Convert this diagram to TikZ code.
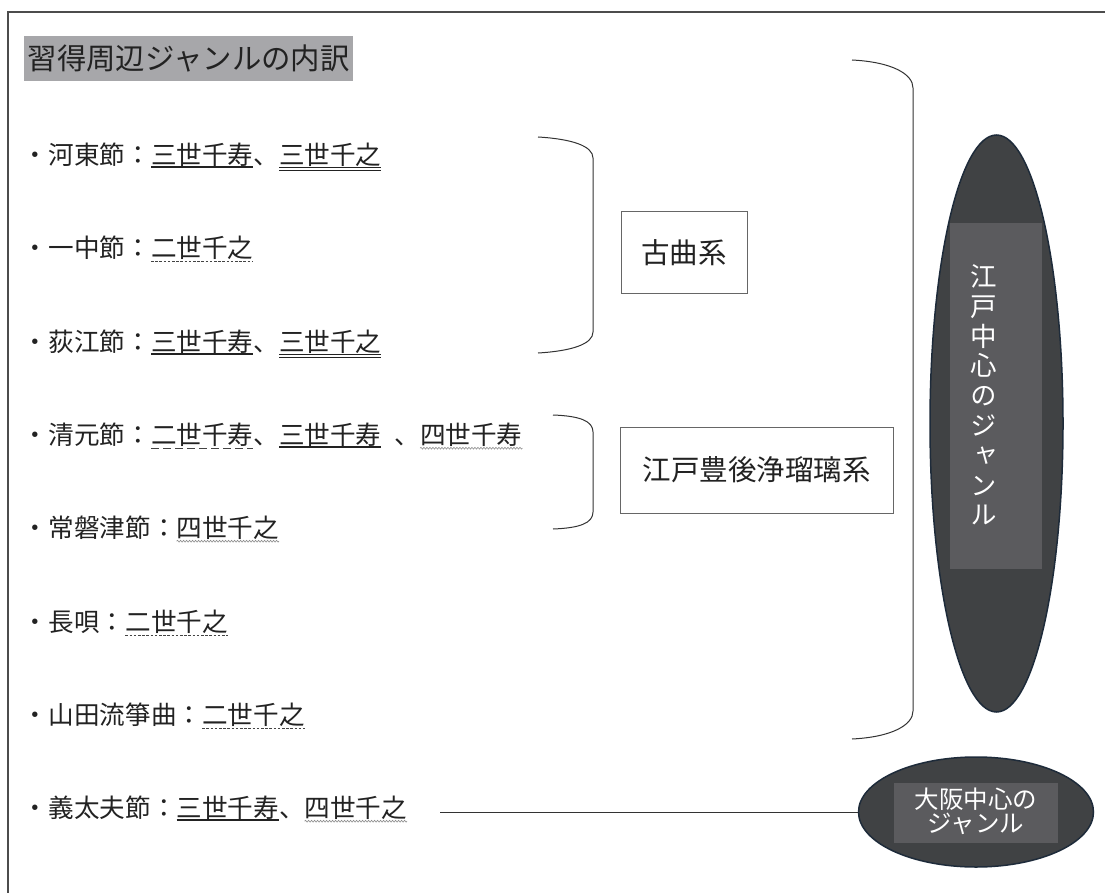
\documentclass[tikz,border=0pt]{standalone}
\usepackage{fontspec}
\newfontfamily\jp{Noto Sans CJK JP}
\newfontfamily\jpv[RawFeature=+vert]{Noto Sans CJK JP}
\usetikzlibrary{shapes.geometric,decorations.pathmorphing}
\definecolor{txt}{HTML}{222222}
\definecolor{titlebg}{HTML}{A7A7AA}
\definecolor{ellfill}{HTML}{404244}
\definecolor{ellline}{HTML}{1E2B3A}
\definecolor{rectfill}{HTML}{5B5B5E}
\definecolor{brk}{HTML}{333333}
\begin{document}
\begin{tikzpicture}[x=1pt,y=-1pt,
  seg/.style={inner sep=0pt, outer sep=0pt, anchor=base west, text=txt, font=\jp\fontsize{25.6}{30}\selectfont},
  ulsolid/.style={line width=1.8pt, draw=txt},
  uldouble/.style={line width=1pt, draw=txt},
  uldot/.style={line width=1.1pt, draw=txt!85, dash pattern=on 2.6pt off 1.6pt},
  uldash/.style={line width=1.1pt, draw=txt!85, dash pattern=on 8pt off 4pt},
  ulwave/.style={line width=0.6pt, draw=black!45, decorate, decoration={snake, amplitude=0.9pt, segment length=3pt}},
  bracket/.style={draw=brk, line width=1pt},
  catbox/.style={draw=black!60, line width=1pt, inner sep=0pt, text=txt, font=\jp\fontsize{28.5}{30}\selectfont},
  wtext/.style={text=white, inner sep=0pt, align=center}
]
\useasboundingbox (0,0) rectangle (1105,893);
% frame
\draw[draw=black!70, line width=1.4pt] (8,893) -- (8,12) -- (1105,12);
% title
\node (title) [fill=titlebg, minimum width=329pt, minimum height=45pt, inner sep=0pt, anchor=north west, text=txt, font=\jp\fontsize{29.4}{32}\selectfont] at (24,36) {習得周辺ジャンルの内訳};

% line 1
\node[seg] (a1) at (23,164.7) {・河東節：};
\node[seg] (a2) at (a1.base east) {三世千寿};
\node[seg] (a3) at (a2.base east) {、};
\node[seg] (a4) at (a3.base east) {三世千之};
\draw[ulsolid] ([yshift=-2.5pt]a2.base west) -- ([yshift=-2.5pt]a2.base east);
\draw[uldouble] ([yshift=-2.8pt]a4.base west) -- ([yshift=-2.8pt]a4.base east);
\draw[uldouble] ([yshift=-5.4pt]a4.base west) -- ([yshift=-5.4pt]a4.base east);

% line 2
\node[seg] (b1) at (23,257.7) {・一中節：};
\node[seg] (b2) at (b1.base east) {二世千之};
\draw[uldot] ([yshift=-4pt]b2.base west) -- ([yshift=-4pt]b2.base east);

% line 3
\node[seg] (c1) at (23,351.7) {・荻江節：};
\node[seg] (c2) at (c1.base east) {三世千寿};
\node[seg] (c3) at (c2.base east) {、};
\node[seg] (c4) at (c3.base east) {三世千之};
\draw[ulsolid] ([yshift=-2.5pt]c2.base west) -- ([yshift=-2.5pt]c2.base east);
\draw[uldouble] ([yshift=-2.8pt]c4.base west) -- ([yshift=-2.8pt]c4.base east);
\draw[uldouble] ([yshift=-5.4pt]c4.base west) -- ([yshift=-5.4pt]c4.base east);

% line 4
\node[seg] (d1) at (23,444.7) {・清元節：};
\node[seg] (d2) at (d1.base east) {二世千寿};
\node[seg] (d3) at (d2.base east) {、};
\node[seg] (d4) at (d3.base east) {三世千寿};
\node[seg] (d5) at (d4.base east) {\hspace{13pt}、};
\node[seg] (d6) at (d5.base east) {四世千寿};
\draw[uldash] ([yshift=-4pt]d2.base west) -- ([yshift=-4pt]d2.base east);
\draw[ulsolid] ([yshift=-2.5pt]d4.base west) -- ([yshift=-2.5pt]d4.base east);
\draw[ulwave] ([yshift=-3.5pt]d6.base west) -- ([yshift=-3.5pt]d6.base east);

% line 5
\node[seg] (e1) at (23,537.7) {・常磐津節：};
\node[seg] (e2) at (e1.base east) {四世千之};
\draw[ulwave] ([yshift=-3.5pt]e2.base west) -- ([yshift=-3.5pt]e2.base east);

% line 6
\node[seg] (f1) at (23,631.7) {・長唄：};
\node[seg] (f2) at (f1.base east) {二世千之};
\draw[uldot] ([yshift=-4pt]f2.base west) -- ([yshift=-4pt]f2.base east);

% line 7
\node[seg] (g1) at (23,724.7) {・山田流箏曲：};
\node[seg] (g2) at (g1.base east) {二世千之};
\draw[uldot] ([yshift=-4pt]g2.base west) -- ([yshift=-4pt]g2.base east);

% line 8
\node[seg] (h1) at (23,817.7) {・義太夫節：};
\node[seg] (h2) at (h1.base east) {三世千寿};
\node[seg] (h3) at (h2.base east) {、};
\node[seg] (h4) at (h3.base east) {四世千之};
\draw[ulsolid] ([yshift=-2.5pt]h2.base west) -- ([yshift=-2.5pt]h2.base east);
\draw[ulwave] ([yshift=-3.5pt]h4.base west) -- ([yshift=-3.5pt]h4.base east);

% brackets
\draw[bracket] (538,137) .. controls (572,139) and (593,146) .. (593,158) -- (593,332) .. controls (593,344) and (572,351) .. (538,353);
\draw[bracket] (553,415) .. controls (580,416) and (593,421) .. (593,432) -- (593,512) .. controls (593,523) and (580,528) .. (553,529);
\draw[bracket] (852,60) .. controls (892,62) and (913,74) .. (913,88) -- (913,711) .. controls (913,725) and (892,737) .. (852,739);

% category boxes
\node (kokyoku) [catbox, minimum width=126pt, minimum height=81pt] at (684,252.5) {古曲系};
\node (bungo) [catbox, minimum width=273pt, minimum height=86pt] at (756.5,470) {江戸豊後浄瑠璃系};

% Edo ellipse
\node (edo) [ellipse, draw=ellline, fill=ellfill, line width=1.5pt, minimum width=133pt, minimum height=577pt, inner sep=0pt] at (996.5,423.5) {};
\node (edorect) [fill=rectfill, minimum width=92pt, minimum height=346pt, inner sep=0pt] at (996,396) {};
\node (edotext) [wtext, font=\jpv\fontsize{26.5}{29.8}\selectfont] at (984,395) {江\\戸\\中\\心\\の\\ジ\\ャ\\ン\\ル};

% Osaka ellipse
\node (osaka) [ellipse, draw=ellline, fill=ellfill, line width=1.5pt, minimum width=235pt, minimum height=110pt, inner sep=0pt] at (976,812) {};
\node (osakarect) [fill=rectfill, minimum width=164pt, minimum height=60pt, inner sep=0pt] at (976,813) {};
\node (osakatext) [wtext, font=\jp\fontsize{24.5}{24}\selectfont] at (976,811) {大阪中心の\\ジャンル};

% connector
\coordinate (gstart) at (440,812);
\draw[draw=brk, line width=1pt] (gstart) -- (osaka.west);
\end{tikzpicture}
\end{document}
